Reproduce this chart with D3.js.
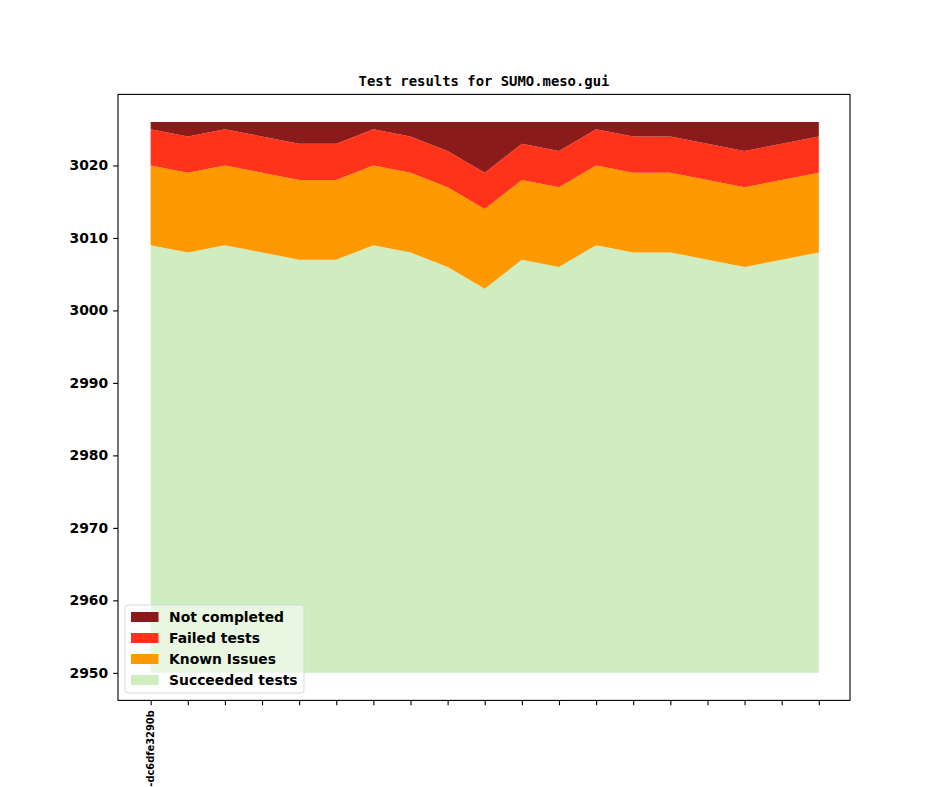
<!DOCTYPE html>
<html>
<head>
<meta charset="utf-8">
<script src="https://cdn.jsdelivr.net/npm/d3@7"></script>
<style>
  body { margin: 0; background: #fff; }
  text { font-family: "DejaVu Sans", sans-serif; font-weight: bold; fill: #000; }
  #title { font-family: "DejaVu Sans Mono", monospace; font-size: 13.9px; }
  .ytick text { font-size: 13.9px; }
  .xtick text { font-size: 9.9px; }
  .legtext { font-size: 13.9px; }
</style>
</head>
<body>
<div id="container"><svg></svg></div>
<script>
const W = 944;
const H = 787;

// one commit per x position, only the first has a readable label
const commits = ['-dc6dfe3290b', '', '', '', '', '', '', '', '', '', '', '', '', '', '', '', '', '', ''];
const succeeded = [3009, 3008, 3009, 3008, 3007, 3007, 3009, 3008, 3006, 3003, 3007, 3006, 3009, 3008, 3008, 3007, 3006, 3007, 3008];
const known = [11, 11, 11, 11, 11, 11, 11, 11, 11, 11, 11, 11, 11, 11, 11, 11, 11, 11, 11];
const failed = [5, 5, 5, 5, 5, 5, 5, 5, 5, 5, 5, 5, 5, 5, 5, 5, 5, 5, 5];
const notCompleted = [1, 2, 1, 2, 3, 3, 1, 2, 4, 7, 3, 4, 1, 2, 2, 3, 4, 3, 2];
const yTicks = [2950, 2960, 2970, 2980, 2990, 3000, 3010, 3020];
const BASE = 2950;

const keys = ['Succeeded tests', 'Known Issues', 'Failed tests', 'Not completed'];
const colors = {
    'Succeeded tests': '#cfedbf',
    'Known Issues': '#ff9900',
    'Failed tests': '#ff331a',
    'Not completed': '#8b1a1a'
};

const table = commits.map((c, i) => ({
    i: i,
    'Succeeded tests': succeeded[i],
    'Known Issues': known[i],
    'Failed tests': failed[i],
    'Not completed': notCompleted[i]
}));

const margin = {left: 118, right: 850, top: 94.4, bottom: 700.4};

let svg = d3.select('#container').select('svg')
    .attr('width', W)
    .attr('height', H);

let stacked = d3.stack().keys(keys)(table);
let maxTotal = d3.max(stacked[stacked.length - 1], d => d[1]);
let pad = (maxTotal - BASE) * 0.05;

let x = d3.scaleLinear()
    .domain([-0.88, commits.length - 1 + 0.84])
    .range([margin.left, margin.right]);
let y = d3.scaleLinear()
    .domain([BASE - pad, maxTotal + pad])
    .range([margin.bottom, margin.top]);

let area = (s, k) => d3.area()
    .x(d => x(d.data.i))
    .y0(d => k === 0 ? y(BASE) : y(d[0]))
    .y1(d => y(d[1]));

svg.append('g').selectAll('path')
    .data(stacked)
    .enter().append('path')
    .attr('d', (s, k) => area(s, k)(s))
    .attr('fill', s => colors[s.key]);

// axes
let yAxis = svg.append('g')
    .attr('class', 'ytick')
    .attr('transform', `translate(${margin.left},0)`)
    .call(d3.axisLeft(y).tickValues(yTicks).tickSize(4.9).tickPadding(4.9).tickFormat(d3.format('d')));
yAxis.select('.domain').remove();
yAxis.selectAll('line').attr('stroke', '#000').attr('stroke-width', 1.1);

let xAxis = svg.append('g')
    .attr('class', 'xtick')
    .attr('transform', `translate(0,${margin.bottom})`)
    .call(d3.axisBottom(x).tickValues(d3.range(commits.length)).tickSize(4.9).tickFormat(i => commits[i]));
xAxis.select('.domain').remove();
xAxis.selectAll('line').attr('stroke', '#000').attr('stroke-width', 1.1);
xAxis.selectAll('text')
    .attr('transform', 'rotate(-90)')
    .attr('text-anchor', 'end')
    .attr('dominant-baseline', 'middle')
    .attr('x', -9.8)
    .attr('y', 0)
    .attr('dy', null);

svg.append('rect')
    .attr('x', margin.left)
    .attr('y', margin.top)
    .attr('width', margin.right - margin.left)
    .attr('height', margin.bottom - margin.top)
    .attr('fill', 'none')
    .attr('stroke', '#000')
    .attr('stroke-width', 1.1);

svg.append('text')
    .attr('id', 'title')
    .attr('x', (margin.left + margin.right) / 2)
    .attr('y', 86)
    .attr('text-anchor', 'middle')
    .text('Test results for SUMO.meso.gui');

// legend, lower left
let legend = svg.append('g').attr('transform', 'translate(125,605)');
legend.append('rect')
    .attr('width', 179)
    .attr('height', 88)
    .attr('rx', 3)
    .attr('fill', 'rgba(255,255,255,0.55)')
    .attr('stroke', '#d9d9d9')
    .attr('stroke-width', 1);

let legKeys = keys.slice().reverse();
let rows = legend.selectAll('g.row')
    .data(legKeys)
    .enter().append('g')
    .attr('class', 'row')
    .attr('transform', (d, i) => `translate(0,${12 + i * 21})`);
rows.append('rect')
    .attr('x', 6)
    .attr('y', -5)
    .attr('width', 27.5)
    .attr('height', 10)
    .attr('fill', d => colors[d]);
rows.append('text')
    .attr('class', 'legtext')
    .attr('x', 44)
    .attr('y', 0)
    .attr('dominant-baseline', 'central')
    .text(d => d);
</script>
</body>
</html>
